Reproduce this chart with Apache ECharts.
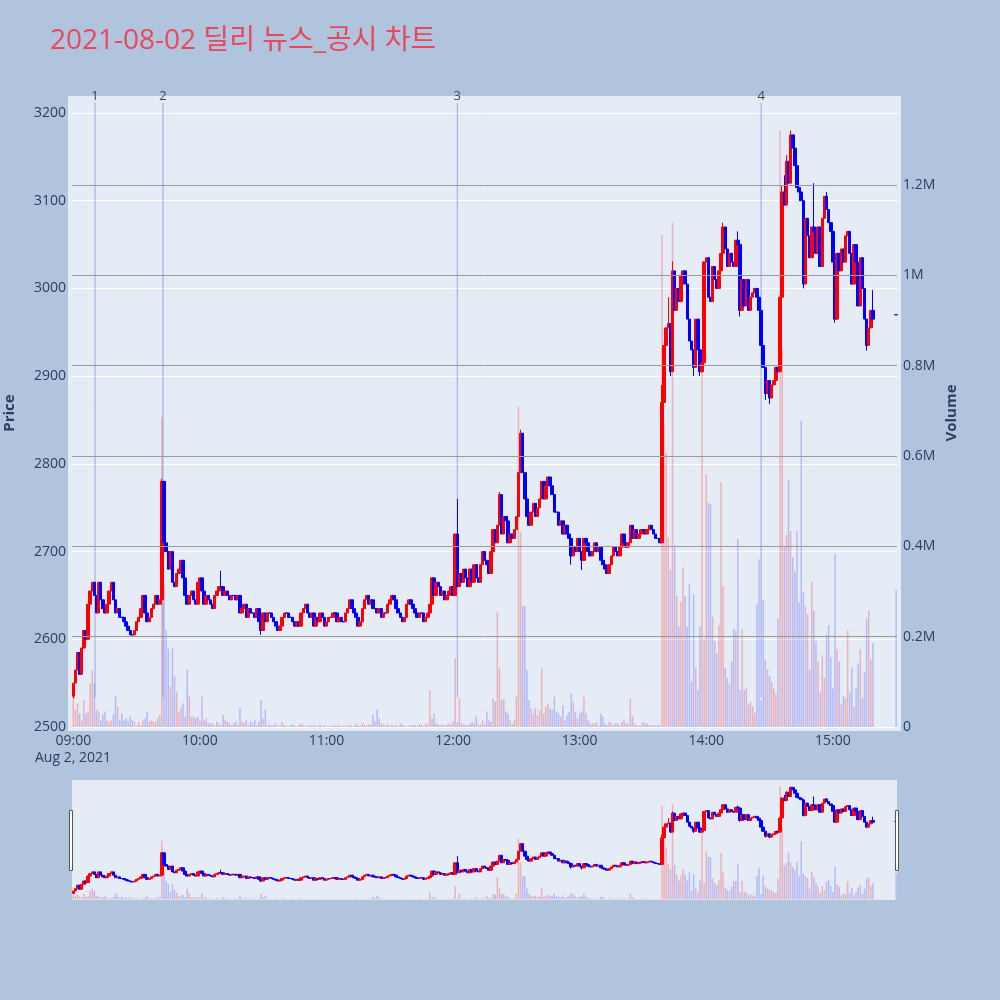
<!DOCTYPE html>
<html><head><meta charset="utf-8">
<script src="https://cdn.jsdelivr.net/npm/echarts@6/dist/echarts.min.js"></script>
<style>html,body{margin:0;padding:0;background:#B0C4DE;}#c{width:1000px;height:1000px;}</style>
</head><body><div id="c"></div>
<script>
// ---------------- data ----------------
const titleText = '2021-08-02 딜리 뉴스_공시 차트';
const dateLabel = 'Aug 2, 2021';
const firstOpen = 2535;
// one close per minute from 09:00 (index 0) to 15:30 (index 390); null = no trade
const closes = [
2550,2565,2585,2560,2590,2610,2600,2640,2655,2665,
2650,2630,2665,2645,2635,2630,2640,2655,2665,2645,
2630,2635,2625,2625,2620,2615,2610,2605,2605,2610,
2620,2625,2635,2650,2630,2620,2625,2635,2640,2650,
2640,2645,2780,2710,2700,2680,2700,2665,2660,2675,
2680,2690,2670,2650,2640,2650,2655,2645,2640,2665,
2670,2655,2640,2650,2645,2640,2635,2650,2655,2660,
2660,2650,2655,2650,2645,2650,2650,2645,2650,2630,
2635,2640,2625,2635,2630,2630,2625,2635,2620,2610,
2630,2620,
2630,2630,2625,2620,2615,2610,2615,2625,2630,2630,
2625,2625,2620,2615,2620,2615,2630,2635,2640,2630,
2625,2630,2615,2625,2620,2630,2625,2615,2620,2625,
2625,2630,2630,2620,2625,2620,2620,2630,2635,2645,
2635,2630,2625,2615,2620,2635,2645,2650,2640,2645,
2635,2635,2630,2635,2625,2630,2630,2640,2645,2650,
2645,2635,2630,2625,2620,2625,2640,2645,2640,2635,
2630,2625,2630,2630,2620,2625,2630,2640,2670,2650,
2665,2660,2650,2655,2645,2650,2655,2660,2650,2720,
2660,2675,2665,2680,2670,2660,2680,2665,2685,
2670,2665,2685,2700,2690,2685,2675,2700,2725,2710,
2730,2765,2720,2740,2735,2710,2720,2715,2725,2740,
2790,2835,2790,2760,2740,2730,2745,2755,2740,2750,
2760,2780,2760,2775,2785,2775,2765,2745,2745,2730,
2735,2720,2730,2720,2715,2695,2705,2700,2715,2700,
2690,2715,2710,2700,2695,2700,2710,2700,2705,2690,
2685,2680,2675,2685,2695,2705,2700,2695,2705,2720,
2710,2705,2710,2730,2715,2725,2715,2720,2725,2725,
2720,2725,2730,2725,2720,2715,2715,2710,2870,2935,
2955,2960,2905,3020,2975,3000,2985,3015,3020,3005,
2965,2940,2930,2910,2965,2930,2905,2915,3030,3035,
2990,2985,3025,3010,3000,3020,3040,3070,3045,3025,
3040,3030,3025,3055,3050,2975,3010,2980,3010,2975,
2990,2995,3000,2990,2975,2935,2910,2880,2895,2875,
2890,2895,2910,2905,2990,3110,3095,3145,3120,3175,
3160,3140,3115,3110,3100,3005,3080,3060,3035,3070,
3065,3040,3070,3025,3080,3105,3090,3075,3065,3030,
2965,3040,3020,3045,3030,3060,3065,3040,3005,3050,
3030,2980,3035,3000,2965,2935,2955,2975,2965,
null,null,null,null,null,null,null,null,null,null,
2970];
// wick extremes beyond the body, by minute index
const wickHigh = {42:2783,70:2678,182:2760,202:2768,212:2839,213:2827,279:2890,282:2990,284:3031,299:3031,308:3075,315:3065,336:3117,337:3129,338:3152,340:3180,351:3120,357:3110,379:2998};
const wickLow = {0:2532,89:2605,236:2685,241:2679,283:2900,294:2900,297:2900,316:2968,328:2873,330:2868,346:3000,361:2961,376:2929};
// volume per minute, in thousands of shares
const volumesK = [
60,38,52,30,15,60,30,34,97,126,97,38,34,15,27,34,15,12,15,27,68,45,15,30,15,19,12,23,15,12,4,12,4,15,19,34,12,15,12,12,19,27,687,
318,215,174,89,174,112,78,34,45,52,23,126,67,23,23,19,23,15,67,15,19,8,8,8,4,12,8,4,27,15,12,8,4,8,12,4,41,12,8,15,4,12,8,15,4,12,60,19,38,
4,6,3,5,8,3,4,12,5,3,
2,4,6,3,2,5,8,4,3,2,
4,3,5,2,3,6,2,4,3,2,
3,2,4,3,5,2,3,4,2,6,
3,2,8,4,3,8,5,4,6,5,
27,12,38,19,8,5,4,6,3,5,
3,4,2,8,5,3,2,4,3,5,
4,3,6,5,3,8,6,82,19,30,
8,5,4,6,3,5,8,6,12,152,
10,64,8,6,5,4,8,
11,8,23,6,6,15,6,34,15,11,63,56,255,130,60,63,34,30,15,6,15,67,709,
432,268,268,126,60,41,30,41,26,37,130,30,45,52,41,37,67,34,30,23,48,15,26,34,74,56,34,19,30,34,67,30,15,8,8,8,11,4,30,23,8,4,11,8,4,8,8,4,11,15,8,8,63,23,8,4,4,4,11,8,8,4,4,4,4,4,
4,
1089,669,606,420,348,1116,402,290,222,276,353,290,222,317,100,294,131,82,222,810,
195,560,497,493,244,190,163,226,543,312,131,109,95,145,217,213,416,82,217,82,
86,50,55,45,32,271,371,59,281,149,127,113,100,86,73,240,1320,840,398,425,
547,434,375,344,434,276,678,299,267,249,127,321,258,190,145,77,158,109,204,226,
154,86,384,172,145,50,68,64,213,77,131,45,86,140,172,64,122,240,258,149,186,
null,null,null,null,null,null,null,null,null,null,
303];
const eventMinutes = [10.3, 42.5, 182, 326];
const eventLabels = ['1', '2', '3', '4'];
const eventPriceRange = [2534, 3211.5];
const hourTicks = [0, 60, 120, 180, 240, 300, 360];
const hourLabels = ['09:00', '10:00', '11:00', '12:00', '13:00', '14:00', '15:00'];
const volumeTicksK = [200, 400, 600, 800, 1000, 1200];

// ---------------- build ----------------
if (closes.length !== volumesK.length) console.error('length mismatch', closes.length, volumesK.length);
const UP = '#FF0000', DOWN = '#0000FF';
const candleData = [], volData = [];
for (let i = 0; i < closes.length; i++) {
  const c = closes[i];
  if (c == null) continue;
  const o = i === 0 ? firstOpen : (closes[i - 1] == null ? c : closes[i - 1]);
  let h = Math.max(o, c), l = Math.min(o, c);
  if (wickHigh[i] != null) h = Math.max(h, wickHigh[i]);
  if (wickLow[i] != null) l = Math.min(l, wickLow[i]);
  const up = c > o;
  const item = { value: [i, o, c, l, h] };
  if (o === c) item.itemStyle = { color: DOWN, color0: DOWN, borderColor: DOWN, borderColor0: DOWN };
  candleData.push(item);
  volData.push({ value: [i, volumesK[i]], itemStyle: { color: up ? 'rgba(255,0,0,0.25)' : 'rgba(0,0,255,0.21)' } });
}

const FONT = '"Open Sans", "Noto Sans CJK KR", sans-serif';
const TXT = '#2a3f5f';
const X_MIN = -0.62, X_MAX = 390.4;
const VOL_MAX = 1359.3;

const candleStyle = { color: UP, color0: DOWN, borderColor: UP, borderColor0: DOWN, borderWidth: 1 };

const eventSeries = eventMinutes.map((m, i) => ({
  type: 'line', xAxisIndex: 0, yAxisIndex: 0, clip: false, z: 2.5, silent: true,
  symbol: 'circle', symbolSize: 0, showSymbol: true,
  lineStyle: { color: 'rgba(100,120,215,0.6)', width: 1 },
  data: [
    [m, eventPriceRange[0]],
    { value: [m, eventPriceRange[1]], label: { show: true, position: 'top', distance: 0, formatter: eventLabels[i], color: '#444', fontSize: 13, fontFamily: FONT } }
  ]
}));

const option = {
  animation: false,
  backgroundColor: '#B0C4DE',
  grid: [
    { left: 72, right: 103, top: 113, bottom: 273 },
    { left: 72, right: 103, top: 780, bottom: 100 }
  ],
  xAxis: [
    { type: 'value', gridIndex: 0, min: X_MIN, max: X_MAX,
      axisLine: { show: false }, axisTick: { show: false }, splitLine: { show: false },
      axisLabel: { customValues: hourTicks, color: TXT, fontSize: 14, fontFamily: FONT, margin: 7,
        formatter: v => { const k = hourTicks.indexOf(Math.round(v)); return k >= 0 ? hourLabels[k] : ''; } } },
    { type: 'value', gridIndex: 1, min: X_MIN, max: X_MAX, show: false }
  ],
  yAxis: [
    { type: 'value', gridIndex: 0, min: 2500, max: 3200, interval: 100, position: 'left',
      axisLine: { show: false }, axisTick: { show: false },
      axisLabel: { color: TXT, fontSize: 14, fontFamily: FONT, margin: 6, formatter: v => String(v) },
      splitLine: { lineStyle: { color: '#FFFFFF', width: 1 } } },
    { type: 'value', gridIndex: 0, min: 0, max: VOL_MAX, interval: 200, position: 'right',
      axisLine: { show: false }, axisTick: { show: false }, splitLine: { show: false },
      axisLabel: { color: TXT, fontSize: 14, fontFamily: FONT, margin: 6, showMaxLabel: false,
        formatter: v => v === 0 ? '0' : (v / 1000) + 'M' } },
    { type: 'value', gridIndex: 1, min: 2495.4, max: 3219.5, show: false },
    { type: 'value', gridIndex: 1, min: -8.9, max: 1397, show: false }
  ],
  series: [
    { type: 'bar', name: 'Volume', xAxisIndex: 0, yAxisIndex: 1, data: volData, barWidth: 1.5, z: 2,
      markLine: { silent: true, symbol: ['none', 'none'], label: { show: false },
        lineStyle: { color: '#9a9a9a', width: 1, type: 'solid' },
        data: volumeTicksK.map(v => ({ yAxis: v })) } },
    ...eventSeries,
    { type: 'candlestick', name: 'Price', xAxisIndex: 0, yAxisIndex: 0, data: candleData, barWidth: 3, z: 3,
      itemStyle: candleStyle },
    { type: 'bar', xAxisIndex: 1, yAxisIndex: 3, data: volData, barWidth: 1.5, z: 2 },
    { type: 'candlestick', xAxisIndex: 1, yAxisIndex: 2, data: candleData, barWidth: 3, z: 3, itemStyle: candleStyle }
  ],
  graphic: [
    { type: 'rect', z: -10, silent: true, shape: { x: 68, y: 96, width: 833, height: 635 }, style: { fill: '#E5ECF6' } },
    { type: 'rect', z: -10, silent: true, shape: { x: 72, y: 780, width: 825, height: 120 }, style: { fill: '#E5ECF6' } },
    { type: 'rect', z: 50, silent: true, shape: { x: 69.5, y: 810.5, width: 3, height: 60 }, style: { fill: '#FFFFFF', stroke: '#555', lineWidth: 1 } },
    { type: 'rect', z: 50, silent: true, shape: { x: 895.5, y: 810.5, width: 3, height: 60 }, style: { fill: '#FFFFFF', stroke: '#555', lineWidth: 1 } },
    { type: 'text', z: 50, x: 50, y: 41, style: { text: titleText, fill: '#E8485E', font: '28px ' + FONT, textAlign: 'left', textVerticalAlign: 'middle', align: 'left', verticalAlign: 'middle' } },
    { type: 'text', z: 50, x: 73, y: 758, style: { text: dateLabel, fill: TXT, font: '14px ' + FONT, textAlign: 'center', textVerticalAlign: 'middle', align: 'center', verticalAlign: 'middle' } },
    { type: 'text', z: 50, x: 10, y: 413, rotation: Math.PI / 2, style: { text: 'Price', fill: TXT, font: 'bold 15px ' + FONT, textAlign: 'center', textVerticalAlign: 'middle', align: 'center', verticalAlign: 'middle' } },
    { type: 'text', z: 50, x: 952, y: 413, rotation: Math.PI / 2, style: { text: 'Volume', fill: TXT, font: 'bold 15px ' + FONT, textAlign: 'center', textVerticalAlign: 'middle', align: 'center', verticalAlign: 'middle' } }
  ]
};
const chart = echarts.init(document.getElementById('c'), null, { renderer: 'canvas' });
chart.setOption(option);
</script>
</body></html>
